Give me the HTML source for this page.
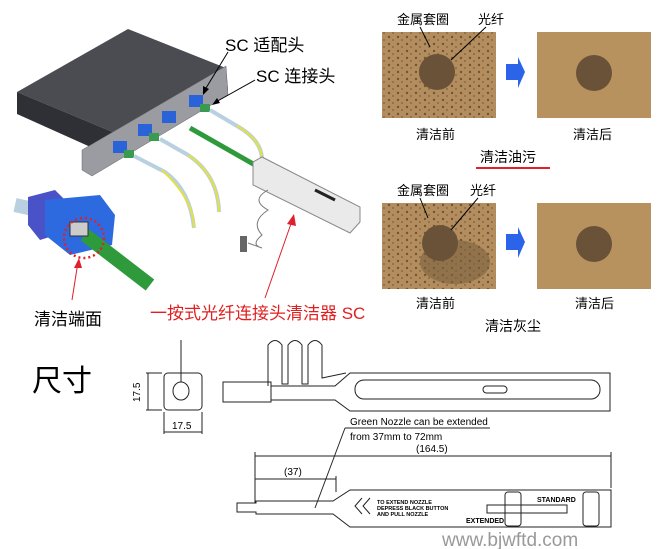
<!DOCTYPE html>
<html><head><meta charset="utf-8"><style>
html,body{margin:0;padding:0;background:#fff;overflow:hidden}
svg{display:block}
text{font-family:"Liberation Sans","Noto Sans CJK SC",sans-serif}
</style></head><body>
<svg width="670" height="549" viewBox="0 0 670 549" xmlns="http://www.w3.org/2000/svg">
<defs>
<pattern id="spots" width="9" height="7" patternUnits="userSpaceOnUse"><rect width="9" height="7" fill="#b38d5e"/><circle cx="2" cy="2" r="1.2" fill="#6e5535"/><circle cx="6" cy="5" r="0.9" fill="#7a6040"/></pattern>
</defs>
<!-- chassis -->
<polygon points="17,92 128,29 226,68 115,133" fill="#4a4c52"/>
<polygon points="17,92 115,133 115,158 17,114" fill="#2e3035"/>
<polygon points="115,133 226,68 228,90 118,158" fill="#3b3d43"/>
<polygon points="82,150 226,66 228,95 92,176 82,170" fill="#9a9ca2" stroke="#666" stroke-width="0.5"/>
<rect x="113" y="141" width="14" height="12" fill="#2a62d8"/>
<rect x="138" y="124" width="14" height="12" fill="#2a62d8"/>
<rect x="162" y="111" width="14" height="12" fill="#2a62d8"/>
<rect x="189" y="95" width="14" height="12" fill="#2a62d8"/>
<rect x="124" y="150" width="10" height="8" fill="#3a9a50"/>
<rect x="149" y="133" width="10" height="8" fill="#3a9a50"/>
<rect x="200" y="104" width="10" height="8" fill="#3a9a50"/>
<path d="M134,156 L165,172 Q190,190 194,228" stroke="#b8d0e0" stroke-width="4" fill="none"/>
<path d="M162,170 Q194,200 194,228" stroke="#e6e040" stroke-width="2" fill="none"/>
<path d="M160,139 L188,155 Q218,175 219,212" stroke="#b8d0e0" stroke-width="4" fill="none"/>
<path d="M188,155 Q218,175 219,212" stroke="#e6e040" stroke-width="2" fill="none"/>
<path d="M210,110 L237,126 Q262,140 262,160" stroke="#b8d0e0" stroke-width="4" fill="none"/>
<path d="M237,126 Q262,140 262,160" stroke="#e6e040" stroke-width="2" fill="none"/>
<path d="M190,128 L255,165" stroke="#2f9a3c" stroke-width="5" fill="none"/>
<polygon points="253,162 262,157 360,207 360,222 350,233 253,185" fill="#eaeaea" stroke="#888" stroke-width="1"/>
<path d="M315,190 L335,200" stroke="#222" stroke-width="3"/>
<path d="M268,190 Q250,200 268,210 Q250,222 262,235 Q250,245 262,248 L248,243" stroke="#777" fill="none"/>
<rect x="240" y="236" width="7" height="16" fill="#666"/>
<path d="M15,205 L60,215" stroke="#b8d0e0" stroke-width="14"/>
<polygon points="28,197 55,190 70,205 72,230 40,240 28,225" fill="#4a52c8"/>
<polygon points="45,200 100,195 115,215 112,245 70,255 45,235" fill="#2d6ae0"/>
<path d="M85,235 L150,285" stroke="#2e9a3c" stroke-width="14"/>
<rect x="70" y="222" width="18" height="14" fill="#ccc" stroke="#333"/>
<circle cx="84" cy="238" r="20" fill="none" stroke="#e0202a" stroke-width="2.5" stroke-dasharray="2,3"/>
<line x1="228" y1="52" x2="203" y2="93" stroke="#000"/>
<polygon points="203,95 203,86 209,89" fill="#000"/>
<line x1="255" y1="80" x2="214" y2="103" stroke="#000"/>
<polygon points="212,105 217,98 220,103" fill="#000"/>
<text x="225" y="51" font-size="17">SC 适配头</text>
<text x="256" y="82" font-size="17">SC 连接头</text>
<line x1="72" y1="300" x2="78" y2="262" stroke="#e0202a"/>
<polygon points="79,258 74,268 82,268" fill="#e0202a"/>
<line x1="265" y1="298" x2="293" y2="218" stroke="#e0202a"/>
<polygon points="294,214 287,224 296,226" fill="#e0202a"/>
<text x="34" y="325" font-size="17">清洁端面</text>
<text x="150" y="319" font-size="17" fill="#e02020">一按式光纤连接头清洁器 SC</text>
<!-- photos -->
<rect x="382" y="32" width="114" height="86" fill="url(#spots)"/>
<circle cx="437" cy="72" r="18" fill="#6a5238"/>
<rect x="537" y="32" width="114" height="86" fill="#b7925f"/>
<circle cx="594" cy="73" r="18" fill="#6a5238"/>
<rect x="382" y="203" width="114" height="86" fill="url(#spots)"/>
<ellipse cx="455" cy="262" rx="35" ry="22" fill="#7a6040" opacity="0.6"/>
<circle cx="440" cy="243" r="18" fill="#6a5238"/>
<rect x="537" y="203" width="114" height="86" fill="#b7925f"/>
<circle cx="594" cy="244" r="18" fill="#6a5238"/>
<polygon points="506,64 518,64 518,57 525,72 518,88 518,80 506,80" fill="#2b64e8"/>
<polygon points="506,234 518,234 518,227 525,242 518,258 518,250 506,250" fill="#2b64e8"/>
<text x="397" y="24" font-size="13">金属套圈</text><text x="478" y="24" font-size="13">光纤</text>
<line x1="420" y1="27" x2="430" y2="47" stroke="#000"/><line x1="486" y1="27" x2="451" y2="60" stroke="#000"/>
<text x="397" y="195" font-size="13">金属套圈</text><text x="470" y="195" font-size="13">光纤</text>
<line x1="420" y1="198" x2="428" y2="218" stroke="#000"/><line x1="478" y1="198" x2="451" y2="230" stroke="#000"/>
<text x="416" y="139" font-size="13">清洁前</text><text x="573" y="139" font-size="13">清洁后</text>
<text x="480" y="162" font-size="14">清洁油污</text>
<line x1="476" y1="168" x2="550" y2="168" stroke="#e0202a" stroke-width="2"/>
<text x="416" y="308" font-size="13">清洁前</text><text x="575" y="308" font-size="13">清洁后</text>
<text x="485" y="331" font-size="14">清洁灰尘</text>
<!-- dimensions -->
<text x="32" y="391" font-size="30" font-family="Liberation Serif,'Noto Serif CJK SC',serif">尺寸</text>
<g stroke="#222" fill="none" stroke-width="1">
<line x1="181" y1="340" x2="181" y2="382"/>
<rect x="164" y="373" width="38" height="37" rx="4"/>
<ellipse cx="181" cy="391" rx="8" ry="9"/>
<line x1="146" y1="373" x2="162" y2="373"/><line x1="146" y1="410" x2="162" y2="410"/><line x1="148" y1="373" x2="148" y2="410"/>
<line x1="164" y1="412" x2="164" y2="434"/><line x1="202" y1="412" x2="202" y2="434"/><line x1="164" y1="432" x2="202" y2="432"/>
<rect x="223" y="382" width="48" height="20"/>
<path d="M271,386 L335,386 L350,373 L610,373 L610,411 L350,411 L335,400 L271,400"/>
<path d="M268,386 L268,345 Q275,336 282,345 L282,384 L288,384 L288,345 Q295,336 302,345 L302,384 L308,384 L308,345 Q315,336 322,345 L322,378 L346,373"/>
<rect x="355" y="380" width="245" height="19" rx="9"/>
<rect x="483" y="386" width="24" height="7" rx="3.5"/>
<path d="M237,503 L237,512 L256,512 L256,514 L333,514 L350,527 L611,527 L611,490 L350,490 L333,501 L256,501 L256,503 Z"/>
<line x1="255" y1="456" x2="611" y2="456"/><line x1="255" y1="452" x2="255" y2="503"/><line x1="611" y1="452" x2="611" y2="488"/>
<line x1="255" y1="479" x2="336" y2="479"/><line x1="336" y1="476" x2="336" y2="492"/>
<line x1="345" y1="428" x2="490" y2="428"/><line x1="345" y1="428" x2="315" y2="508"/>
<path d="M362,498 L355,506 L362,514 M370,498 L363,506 L370,514"/>
<rect x="487" y="505" width="80" height="8"/>
<rect x="505" y="492" width="16" height="34" rx="3"/>
<rect x="583" y="492" width="16" height="34" rx="3"/>
</g>
<text x="140" y="402" font-size="10" transform="rotate(-90 140 402)">17.5</text>
<text x="172" y="429" font-size="10">17.5</text>
<text x="350" y="425" font-size="10">Green Nozzle can be extended</text>
<text x="350" y="440" font-size="10">from 37mm to 72mm</text>
<text x="416" y="452" font-size="10">(164.5)</text>
<text x="284" y="475" font-size="10">(37)</text>
<text x="377" y="504" font-size="5.5" font-weight="bold">TO EXTEND NOZZLE</text>
<text x="377" y="510" font-size="5.5" font-weight="bold">DEPRESS BLACK BUTTON</text>
<text x="377" y="516" font-size="5.5" font-weight="bold">AND PULL NOZZLE</text>
<text x="537" y="502" font-size="7" font-weight="bold">STANDARD</text>
<text x="466" y="523" font-size="7" font-weight="bold">EXTENDED</text>
<text x="442" y="546" font-size="19" fill="#999">www.bjwftd.com</text>
</svg>
</body></html>
